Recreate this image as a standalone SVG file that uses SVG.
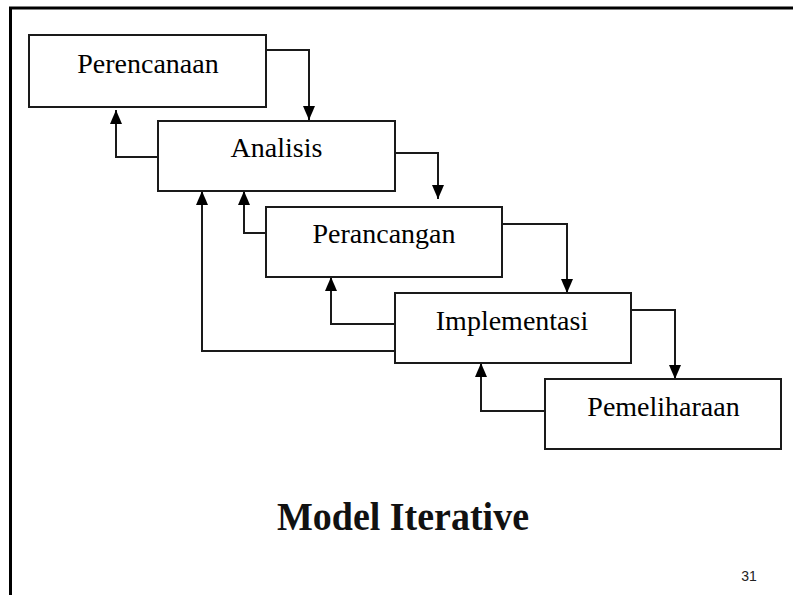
<svg xmlns="http://www.w3.org/2000/svg" width="793" height="595" viewBox="0 0 793 595">
<style>
.box{fill:#fff;stroke:#1a1a1a;stroke-width:2}
.lbl{font-family:"Liberation Serif","Times New Roman",serif;font-size:28px;fill:#000;text-anchor:middle}
.ttl{font-family:"Liberation Serif","Times New Roman",serif;font-size:38px;font-weight:bold;fill:#111;text-anchor:middle}
.num{font-family:"Liberation Sans",Arial,sans-serif;font-size:14px;fill:#222;text-anchor:middle}
.conn{fill:none;stroke:#1a1a1a;stroke-width:2}
</style>
<defs>
<marker id="ah" viewBox="0 0 14 12" refX="14" refY="6" markerWidth="14" markerHeight="12" markerUnits="userSpaceOnUse" orient="auto">
<path d="M0,0 L14,6 L0,12 z" fill="#000"/>
</marker>
</defs>
<rect x="0" y="0" width="793" height="595" fill="#fff"/>
<g id="frame">
<path d="M10.5,595 L10.5,8 L793,8" fill="none" stroke="#000" stroke-width="3"/>
</g>
<g id="connectors">
<path class="conn" d="M266,50 H309 V120" marker-end="url(#ah)"/>
<path class="conn" d="M395,153 H438 V199" marker-end="url(#ah)"/>
<path class="conn" d="M502,224 H567 V293" marker-end="url(#ah)"/>
<path class="conn" d="M631,310 H675 V379" marker-end="url(#ah)"/>
<path class="conn" d="M158,157 H116 V110" marker-end="url(#ah)"/>
<path class="conn" d="M266,233 H244 V191" marker-end="url(#ah)"/>
<path class="conn" d="M395,351 H202 V191" marker-end="url(#ah)"/>
<path class="conn" d="M395,324 H331 V277" marker-end="url(#ah)"/>
<path class="conn" d="M545,411 H481 V363" marker-end="url(#ah)"/>
</g>
<g id="perencanaan">
<rect class="box" x="29" y="35" width="237" height="72"/>
<text class="lbl" x="148" y="73">Perencanaan</text>
</g>
<g id="analisis">
<rect class="box" x="158" y="121" width="237" height="70"/>
<text class="lbl" x="276.5" y="157">Analisis</text>
</g>
<g id="perancangan">
<rect class="box" x="266" y="207" width="236" height="70"/>
<text class="lbl" x="384" y="243">Perancangan</text>
</g>
<g id="implementasi">
<rect class="box" x="395" y="293" width="236" height="70"/>
<text class="lbl" x="512" y="330">Implementasi</text>
</g>
<g id="pemeliharaan">
<rect class="box" x="545" y="379" width="236" height="70"/>
<text class="lbl" x="663.5" y="416">Pemeliharaan</text>
</g>
<g id="title">
<text class="ttl" x="403" y="530" transform="translate(403 530) scale(1 1.08) translate(-403 -530)">Model Iterative</text>
</g>
<g id="pagenum">
<text class="num" x="749" y="581">31</text>
</g>
</svg>
